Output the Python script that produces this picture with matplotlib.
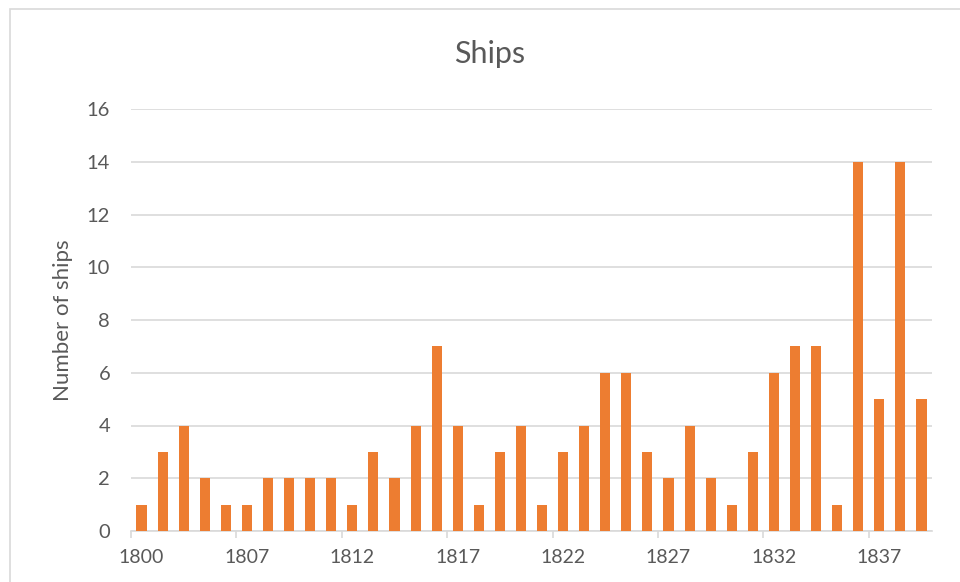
import numpy as np
import matplotlib.pyplot as plt
from matplotlib.patches import Rectangle

plt.rcParams['font.family'] = ['Lato', 'DejaVu Sans']

# categories (only every 5th one is labelled on the axis)
years = ['1800', '1801', '1803', '1804', '1806'] + [str(y) for y in range(1807, 1840)]
ships = [1, 3, 4, 2, 1, 1, 2, 2, 2, 2,
         1, 3, 2, 4, 7, 4, 1, 3, 4, 1,
         3, 4, 6, 6, 3, 2, 4, 2, 1, 3,
         6, 7, 7, 1, 14, 5, 14, 5]

text_col = '#595959'
grid_col = '#d9d9d9'
bar_col = '#ed7d31'

fig = plt.figure(figsize=(9.6, 5.82), dpi=100)
ax = fig.add_axes([131 / 960, 1 - 531 / 582, (932 - 131) / 960, (531 - 109) / 582])

# light chart border, cut off on the right and bottom like the screenshot
fig.patches.append(Rectangle((10 / 960, -0.05), 1.1, 1 - 9 / 582 + 0.05,
                             transform=fig.transFigure, fill=False,
                             edgecolor=grid_col, linewidth=1.2))

x = np.arange(len(years))
ax.bar(x, ships, width=0.48, color=bar_col, zorder=3)

ax.set_xlim(-0.5, len(years) - 0.5)
ax.set_ylim(0, 16)
ax.set_yticks(np.arange(0, 17, 2))
ax.yaxis.grid(True, color=grid_col, linewidth=1.2, zorder=0)
ax.tick_params(axis='y', length=0, pad=15, labelsize=14.5, labelcolor=text_col)

# tick marks sit on category boundaries, labels on every 5th category
ax.set_xticks(np.arange(-0.5, len(years) - 1, 5))
ax.set_xticklabels([])
ax.tick_params(axis='x', which='major', length=5, width=1.2, color=grid_col)
ax.set_xticks(x[::5], minor=True)
ax.set_xticklabels(years[::5], minor=True)
ax.tick_params(axis='x', which='minor', length=0, pad=13, labelsize=14, labelcolor=text_col)

for s in ['top', 'right', 'left']:
    ax.spines[s].set_visible(False)
ax.spines['bottom'].set_color(grid_col)
ax.spines['bottom'].set_linewidth(1.2)

ax.set_ylabel('Number of ships', fontsize=16, color=text_col, labelpad=10)
fig.text(0.510, 1 - 63 / 582, 'Ships', ha='center', va='baseline', fontsize=22, color=text_col)

plt.savefig('out.png', dpi=100)
